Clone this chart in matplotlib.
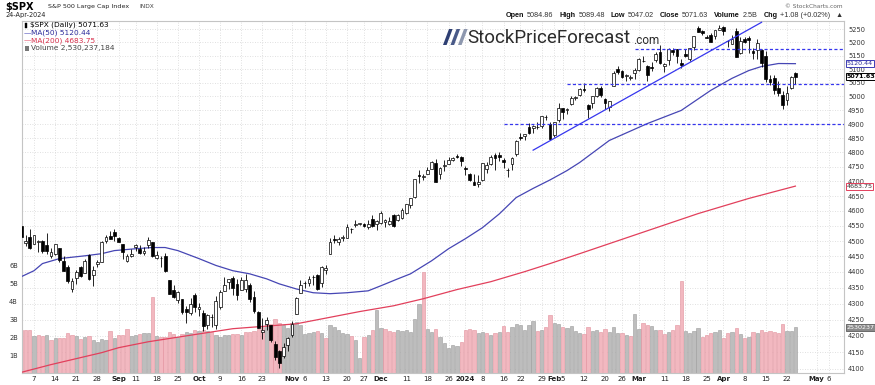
import numpy as np
import pandas as pd
import matplotlib
matplotlib.use("Agg")
import matplotlib.pyplot as plt
import matplotlib.transforms as mtransforms
from matplotlib.patches import Polygon, Rectangle
from matplotlib.ticker import FixedLocator, FuncFormatter, NullLocator

plt.rcParams['font.family'] = ['DejaVu Sans']

# market holidays inside the charted window
holidays = ['2023-09-04', '2023-11-23', '2023-12-25', '2024-01-01',
            '2024-01-15', '2024-02-19', '2024-03-29']

# $SPX daily bars, 1-Aug-2023 .. 24-Apr-2024 (one line per month)
opens = [
    4578.83, 4550.93, 4494.27, 4513.96, 4491.58, 4498.03, 4501.57, 4487.16, 4450.69, 4458.13, 4478.87, 4433.79, 4416.32, 4344.88, 4380.28, 4415.33, 4396.44, 4455.16, 4389.38, 4426.03, 4432.75, 4500.34, 4517.01,
    4530.60, 4510.06, 4490.35, 4434.55, 4451.30, 4480.98, 4473.27, 4462.65, 4487.78, 4497.98, 4445.13, 4445.41, 4452.81, 4374.36, 4341.74, 4310.62, 4312.88, 4282.63, 4269.65, 4328.18,
    4284.52, 4269.75, 4233.83, 4259.31, 4234.79, 4289.02, 4339.75, 4366.59, 4380.94, 4360.49, 4342.37, 4345.23, 4357.35, 4321.36, 4273.85, 4210.40, 4235.79, 4232.42, 4175.99, 4152.93, 4139.39, 4171.33,
    4201.27, 4268.26, 4334.23, 4364.27, 4366.21, 4384.37, 4391.41, 4364.15, 4406.66, 4458.97, 4505.30, 4497.08, 4509.55, 4511.70, 4538.77, 4553.04, 4555.84, 4554.86, 4545.55, 4571.84, 4554.87,
    4559.43, 4564.37, 4557.25, 4586.23, 4568.84, 4576.20, 4593.39, 4618.30, 4646.20, 4721.04, 4714.23, 4725.58, 4743.72, 4764.73, 4724.29, 4753.92, 4758.86, 4773.45, 4786.44, 4782.88,
    4745.20, 4725.07, 4697.42, 4690.57, 4703.70, 4741.93, 4759.94, 4792.13, 4791.18, 4772.35, 4739.13, 4760.10, 4796.28, 4853.42, 4856.80, 4888.56, 4886.66, 4888.91, 4892.95, 4925.89, 4899.19,
    4861.11, 4916.06, 4957.19, 4950.16, 4973.05, 4995.16, 5004.17, 5026.83, 4967.94, 4976.44, 5003.14, 5031.13, 4989.32, 4963.03, 5038.83, 5100.92, 5093.00, 5074.60, 5067.20, 5085.36,
    5098.51, 5130.99, 5110.52, 5108.03, 5132.38, 5164.46, 5111.96, 5134.30, 5173.49, 5175.14, 5123.31, 5154.77, 5139.09, 5181.69, 5253.43, 5242.48, 5219.52, 5228.85, 5226.31, 5248.03,
    5257.97, 5204.29, 5194.37, 5244.05, 5158.95, 5211.37, 5217.03, 5167.88, 5172.95, 5171.51, 5149.67, 5064.59, 5068.97, 5031.52, 5005.44, 4987.33, 5028.85, 5084.86,
]
highs = [
    4584.62, 4550.93, 4519.49, 4540.34, 4519.84, 4503.31, 4502.44, 4527.37, 4476.23, 4490.33, 4478.87, 4449.95, 4421.17, 4381.82, 4407.55, 4418.59, 4443.18, 4458.30, 4418.46, 4439.56, 4500.14, 4521.65, 4532.26,
    4541.25, 4514.29, 4490.35, 4457.81, 4473.53, 4490.77, 4487.11, 4479.39, 4511.99, 4497.98, 4466.36, 4449.85, 4461.03, 4375.70, 4357.40, 4338.51, 4313.01, 4292.07, 4317.27, 4333.15,
    4300.58, 4281.15, 4268.50, 4267.13, 4324.10, 4341.73, 4385.46, 4378.64, 4385.85, 4377.10, 4383.33, 4393.57, 4364.20, 4339.54, 4276.56, 4255.84, 4259.38, 4232.42, 4183.60, 4156.70, 4177.47, 4195.55,
    4245.64, 4319.72, 4373.62, 4372.21, 4386.26, 4391.20, 4393.40, 4418.03, 4421.76, 4508.67, 4521.17, 4511.99, 4520.12, 4557.11, 4542.14, 4568.43, 4560.31, 4560.52, 4568.14, 4587.64, 4569.89,
    4599.39, 4574.06, 4578.56, 4590.74, 4590.92, 4609.23, 4623.18, 4643.93, 4709.69, 4738.57, 4725.53, 4749.52, 4768.69, 4778.01, 4748.71, 4772.94, 4784.72, 4785.39, 4793.30, 4788.43,
    4754.33, 4729.29, 4726.78, 4721.49, 4764.54, 4765.47, 4790.80, 4798.50, 4802.40, 4782.34, 4744.23, 4785.79, 4842.07, 4868.41, 4866.48, 4903.68, 4898.15, 4906.69, 4929.31, 4931.09, 4906.75,
    4906.97, 4975.29, 4957.19, 4957.77, 4999.89, 5000.40, 5030.06, 5048.39, 4971.30, 5002.52, 5032.72, 5038.70, 4993.71, 4983.21, 5094.39, 5111.06, 5097.66, 5080.69, 5077.37, 5104.99,
    5140.33, 5149.67, 5114.54, 5127.97, 5165.62, 5189.26, 5124.66, 5179.87, 5179.14, 5176.85, 5136.86, 5175.60, 5180.31, 5226.19, 5261.10, 5246.09, 5229.09, 5235.16, 5249.26, 5264.85,
    5263.95, 5208.34, 5228.75, 5256.59, 5222.18, 5219.57, 5224.81, 5178.43, 5211.78, 5175.03, 5168.43, 5079.84, 5077.96, 5056.66, 5019.02, 5038.84, 5076.12, 5089.48,
]
lows = [
    4567.53, 4505.75, 4485.54, 4474.55, 4491.15, 4464.39, 4461.33, 4457.92, 4443.98, 4453.44, 4432.19, 4403.55, 4364.83, 4335.31, 4360.30, 4382.77, 4396.44, 4375.55, 4356.29, 4414.98, 4431.68, 4493.59, 4507.39,
    4501.35, 4496.01, 4442.38, 4430.46, 4448.38, 4467.89, 4456.83, 4453.52, 4478.69, 4447.21, 4442.11, 4416.61, 4401.38, 4329.17, 4316.49, 4302.70, 4265.98, 4238.63, 4264.38, 4274.86,
    4260.21, 4216.45, 4220.48, 4225.91, 4219.55, 4283.79, 4339.64, 4345.34, 4325.43, 4311.97, 4342.37, 4337.54, 4303.84, 4269.69, 4223.03, 4189.22, 4219.43, 4181.42, 4127.90, 4103.78, 4132.94, 4153.12,
    4197.74, 4268.26, 4334.23, 4347.53, 4355.41, 4359.76, 4343.94, 4353.34, 4393.82, 4458.97, 4495.31, 4487.83, 4499.66, 4510.36, 4525.51, 4545.05, 4552.80, 4546.32, 4540.51, 4547.15, 4537.24,
    4554.71, 4544.98, 4551.68, 4546.50, 4565.22, 4574.06, 4590.74, 4608.09, 4643.23, 4694.34, 4704.69, 4725.58, 4743.72, 4697.82, 4708.35, 4736.77, 4758.45, 4768.90, 4780.98, 4751.99,
    4722.67, 4699.71, 4687.53, 4682.11, 4699.82, 4730.35, 4756.20, 4739.58, 4768.98, 4747.12, 4714.82, 4740.57, 4785.87, 4844.05, 4844.37, 4865.94, 4869.34, 4881.47, 4887.40, 4916.27, 4845.15,
    4853.52, 4907.99, 4918.09, 4934.88, 4969.05, 4987.09, 5000.34, 5016.83, 4920.31, 4956.21, 4999.44, 4999.52, 4955.02, 4946.00, 5038.83, 5081.46, 5068.91, 5057.29, 5058.35, 5061.89,
    5094.16, 5127.18, 5056.82, 5092.22, 5128.21, 5117.50, 5091.14, 5114.48, 5151.88, 5123.30, 5104.35, 5145.47, 5131.59, 5171.55, 5240.66, 5229.87, 5216.09, 5203.42, 5213.92, 5245.82,
    5229.20, 5184.05, 5194.37, 5146.06, 5157.21, 5197.35, 5160.78, 5138.70, 5138.77, 5107.94, 5052.47, 5039.83, 5007.25, 5001.89, 4953.56, 4969.40, 5027.96, 5047.02,
]
closes = [
    4576.73, 4513.39, 4501.89, 4478.03, 4518.44, 4499.38, 4467.71, 4468.83, 4464.05, 4489.72, 4437.86, 4404.33, 4370.36, 4369.71, 4399.77, 4387.55, 4436.01, 4376.31, 4405.71, 4433.31, 4497.63, 4514.87, 4507.66,
    4515.77, 4496.83, 4465.48, 4451.14, 4457.49, 4487.46, 4461.90, 4467.44, 4505.10, 4450.32, 4453.53, 4443.95, 4402.20, 4330.00, 4320.06, 4337.44, 4273.53, 4274.51, 4299.70, 4288.05,
    4288.39, 4229.45, 4263.75, 4258.19, 4308.50, 4335.66, 4358.24, 4376.95, 4349.61, 4327.78, 4373.63, 4373.20, 4314.60, 4278.00, 4224.16, 4217.04, 4247.68, 4186.77, 4137.23, 4117.37, 4166.82, 4193.80,
    4237.86, 4317.78, 4358.34, 4365.98, 4378.38, 4382.78, 4347.35, 4415.24, 4411.55, 4495.70, 4502.88, 4508.24, 4514.02, 4547.38, 4538.19, 4556.62, 4559.34, 4550.43, 4554.89, 4550.58, 4567.80,
    4594.63, 4569.78, 4567.18, 4549.34, 4585.59, 4604.37, 4622.44, 4643.70, 4707.09, 4719.55, 4719.19, 4740.56, 4768.37, 4698.35, 4746.75, 4754.63, 4774.75, 4781.58, 4783.35, 4769.83,
    4742.83, 4704.81, 4688.68, 4697.24, 4763.54, 4756.50, 4783.45, 4780.24, 4783.83, 4765.98, 4739.21, 4780.94, 4839.81, 4850.43, 4864.60, 4868.55, 4894.16, 4890.97, 4927.93, 4924.97, 4845.65,
    4906.19, 4958.61, 4942.81, 4954.23, 4995.06, 4997.91, 5026.61, 5021.84, 4953.17, 5000.62, 5029.73, 5005.57, 4975.51, 4981.80, 5087.03, 5088.80, 5069.53, 5078.18, 5069.76, 5096.27,
    5137.08, 5130.95, 5078.65, 5104.76, 5157.36, 5123.69, 5117.94, 5175.27, 5165.31, 5150.48, 5117.09, 5149.42, 5178.51, 5224.62, 5241.53, 5234.18, 5218.19, 5203.58, 5248.49, 5254.35,
    5243.77, 5205.81, 5211.49, 5147.21, 5204.34, 5202.39, 5209.91, 5160.64, 5199.06, 5123.41, 5061.82, 5051.41, 5022.21, 5011.12, 4967.23, 5010.60, 5070.55, 5071.63,
]
# volume, billions of shares
volumes = [
    2.30, 2.37, 2.37, 2.40, 2.06, 2.09, 2.06, 2.09, 1.81, 1.94, 1.94, 1.94, 2.22, 2.13, 2.06, 1.91, 2.00, 2.06, 1.85, 1.72, 1.87, 1.81, 2.33,
    1.94, 2.13, 2.13, 2.46, 2.06, 2.09, 2.19, 2.24, 2.24, 4.22, 2.06, 2.00, 2.00, 2.28, 2.19, 2.00, 2.19, 2.28, 2.22, 2.37,
    2.31, 2.37, 2.31, 2.28, 2.09, 2.00, 2.13, 2.09, 2.19, 2.19, 2.09, 2.28, 2.28, 2.33, 2.46, 2.56, 2.74, 2.74, 2.98, 2.80, 2.69, 2.52,
    2.76, 2.83, 2.69, 2.19, 2.24, 2.28, 2.31, 2.22, 1.94, 2.65, 2.56, 2.41, 2.24, 2.15, 2.06, 1.81, 0.85, 2.00, 2.09, 2.37, 3.52,
    2.50, 2.46, 2.33, 2.28, 2.41, 2.31, 2.37, 2.28, 2.98, 3.85, 5.61, 2.43, 2.28, 2.46, 2.00, 1.69, 1.41, 1.57, 1.48, 1.72,
    2.37, 2.43, 2.37, 2.22, 2.28, 2.22, 2.13, 2.24, 2.28, 2.59, 2.28, 2.56, 2.74, 2.65, 2.41, 2.65, 2.89, 2.33, 2.37, 2.56, 3.24,
    2.80, 2.74, 2.56, 2.50, 2.59, 2.33, 2.24, 2.19, 2.54, 2.31, 2.37, 2.28, 2.43, 2.28, 2.54, 2.24, 2.24, 2.13, 2.04, 3.30,
    2.43, 2.78, 2.69, 2.59, 2.37, 2.37, 2.17, 2.28, 2.37, 2.65, 5.09, 2.33, 2.22, 2.33, 2.50, 2.00, 2.09, 2.24, 2.28, 2.37,
    1.96, 2.24, 2.28, 2.50, 2.17, 1.96, 2.00, 2.28, 2.22, 2.37, 2.28, 2.31, 2.28, 2.22, 2.72, 2.33, 2.33, 2.53,
]
prev_close = 4588.96  # 31-Jul-2023
last_volume = 2530237184

# moving averages
ma50_dates = ['2023-08-02', '2023-08-07', '2023-08-09', '2023-08-15', '2023-08-23', '2023-08-29', '2023-09-01',
              '2023-09-11', '2023-09-15', '2023-09-20', '2023-09-25', '2023-10-02', '2023-10-06', '2023-10-12',
              '2023-10-18', '2023-10-24', '2023-10-27', '2023-11-02', '2023-11-08', '2023-11-14', '2023-11-20',
              '2023-11-28', '2023-12-01', '2023-12-07', '2023-12-12', '2023-12-19', '2023-12-26', '2024-01-02',
              '2024-01-08', '2024-01-12', '2024-01-19', '2024-01-25', '2024-01-31', '2024-02-06', '2024-02-09',
              '2024-02-21', '2024-03-05', '2024-03-15', '2024-03-26', '2024-04-03', '2024-04-09', '2024-04-12',
              '2024-04-18', '2024-04-24']
ma50_vals = [4385, 4404, 4427, 4443, 4452, 4459, 4469, 4475, 4479, 4479, 4469, 4443, 4421, 4404, 4394,
             4378, 4362, 4346, 4334, 4331, 4334, 4340, 4356, 4378, 4394, 4436, 4475, 4508, 4544, 4590,
             4645, 4676, 4705, 4737, 4765, 4842, 4902, 4949, 5022, 5066, 5095, 5110, 5121, 5120.44]
ma200_dates = ['2023-08-02', '2023-08-11', '2023-08-21', '2023-08-29', '2023-09-05', '2023-09-14', '2023-09-27',
               '2023-10-12', '2023-11-02', '2023-11-24', '2023-12-06', '2023-12-15', '2023-12-28', '2024-01-10',
               '2024-01-23', '2024-01-31', '2024-02-09', '2024-03-05', '2024-03-21', '2024-04-09', '2024-04-24']
ma200_vals = [4090, 4113, 4131, 4149, 4164, 4182, 4200, 4222, 4237, 4275, 4293, 4315, 4344, 4369,
              4401, 4427, 4459, 4534, 4591, 4642, 4683.75]

# annotations drawn on the chart
support_levels = [5175, 5047, 4900]
support_start = ['2024-02-29', '2024-02-06', '2024-01-16']
trend_dates = ['2024-01-25', '2024-04-12']
trend_vals = [4808, 5277]

price_levels = list(range(4100, 5251, 50))
vol_levels = [1, 2, 3, 4, 5, 6]

tick_dates = ['2023-08-07', '2023-08-14', '2023-08-21', '2023-08-28', '2023-09-05', '2023-09-11', '2023-09-18',
              '2023-09-25', '2023-10-02', '2023-10-09', '2023-10-16', '2023-10-23', '2023-11-01', '2023-11-06',
              '2023-11-13', '2023-11-20', '2023-11-27', '2023-12-01', '2023-12-11', '2023-12-18', '2023-12-26',
              '2024-01-02', '2024-01-08', '2024-01-16', '2024-01-22', '2024-01-29', '2024-02-01', '2024-02-05',
              '2024-02-12', '2024-02-20', '2024-02-26', '2024-03-01', '2024-03-11', '2024-03-18', '2024-03-25',
              '2024-04-01', '2024-04-08', '2024-04-15', '2024-04-22', '2024-05-01', '2024-05-06']
tick_labels = ['7', '14', '21', '28', 'Sep', '11', '18', '25', 'Oct', '9', '16', '23', 'Nov', '6', '13', '20', '27',
               'Dec', '11', '18', '26', '2024', '8', '16', '22', '29', 'Feb', '5', '12', '20', '26', 'Mar', '11',
               '18', '25', 'Apr', '8', '15', '22', 'May', '6']

# ---------------------------------------------------------------------------
cal = pd.bdate_range('2023-08-01', '2024-05-10', freq='C', holidays=holidays)
day = {d.strftime('%Y-%m-%d'): i for i, d in enumerate(cal)}

o, hi, lo, c, v = (np.array(a, dtype=float) for a in (opens, highs, lows, closes, volumes))
x = np.arange(len(c))
down = c < np.concatenate([[prev_close], c[:-1]])

W, H = 875, 385
fig = plt.figure(figsize=(W / 100, H / 100), dpi=100)
fig.patch.set_facecolor('white')


def fpx(px, py):
    return px / W, 1 - py / H


L, R, T, B = 22, 844, 21, 373
rect = [L / W, 1 - B / H, (R - L) / W, (B - T) / H]
axv = fig.add_axes(rect)
ax = fig.add_axes(rect, sharex=axv)
ax.patch.set_visible(False)

px_day = 4.23
x_left = day['2023-08-07'] - (34 - L) / px_day
x_right = day['2023-08-07'] + (R - 34) / px_day
axv.set_xlim(x_left, x_right)
axv.set_ylim(0, (B - T) / 18.0)
ax.set_yscale('log')
ax.set_ylim(4088, 5282)

# grid
blend = mtransforms.blended_transform_factory(axv.transAxes, ax.transData)
for lv in price_levels:
    axv.plot([0, 1], [lv, lv], transform=blend, color='#d6d6d6', lw=0.6, ls=(0, (1, 2)), zorder=0.5)
tick_x = [day[d] for d in tick_dates]
axv.vlines(tick_x, 0, 1, transform=axv.get_xaxis_transform(), color='#d6d6d6', lw=0.6,
           linestyles=(0, (1, 2)), zorder=0.5)

# volume
axv.bar(x, v, width=0.78, color=np.where(down, '#f2b8c0', '#bdbdbd'),
        edgecolor=np.where(down, '#e2909c', '#9c9c9c'), lw=0.4, zorder=1)

# moving averages
ax.plot([day[d] for d in ma200_dates], ma200_vals, color='#e2405c', lw=0.9, zorder=2)
ax.plot([day[d] for d in ma50_dates], ma50_vals, color='#4646b4', lw=0.9, zorder=2)

# candles
ax.vlines(x, lo, hi, color='black', lw=0.6, zorder=3)
ax.bar(x, np.maximum(np.abs(c - o), 0.5), bottom=np.minimum(o, c), width=0.66,
       color=np.where(c >= o, 'white', 'black'), edgecolor='black', lw=0.5, zorder=4)

# trend / support lines
blue = '#3636ee'
for lv, d in zip(support_levels, support_start):
    ax.plot([day[d], x_right], [lv, lv], color=blue, lw=0.9, ls=(0, (2.5, 1.8)), zorder=5)
ax.plot([day[d] for d in trend_dates], trend_vals, color=blue, lw=0.9, zorder=5)

# axes styling
ax.yaxis.tick_right()
ax.yaxis.set_major_locator(FixedLocator(price_levels))
ax.yaxis.set_major_formatter(FuncFormatter(lambda val, pos: f'{val:.0f}'))
ax.yaxis.set_minor_locator(NullLocator())
ax.tick_params(axis='y', which='both', length=0, labelsize=4.8, pad=3, labelcolor='#333333')
ax.tick_params(axis='x', labelbottom=False, length=0)
for s in ax.spines.values():
    s.set_visible(False)

axv.set_yticks(vol_levels)
axv.set_yticklabels([f'{b}B' for b in vol_levels])
axv.tick_params(axis='y', length=0, labelsize=4.8, pad=3, labelcolor='#333333')
axv.set_xticks(tick_x)
axv.set_xticklabels(tick_labels)
axv.tick_params(axis='x', length=0, labelsize=5, pad=2, labelcolor='#222222')
for t in axv.get_xticklabels():
    if not t.get_text().isdigit() or t.get_text() == '2024':
        t.set_fontweight('bold')
for s in axv.spines.values():
    s.set_color('#c4c4c4')
    s.set_linewidth(0.8)

# value tags on the right edge
tr_p = mtransforms.blended_transform_factory(ax.transAxes, ax.transData)
tr_v = mtransforms.blended_transform_factory(ax.transAxes, axv.transData)


def tag(y, text, tr, fc, ec, tc, bold=False):
    ax.text(1.003, y, text, transform=tr, ha='left', va='center', fontsize=4.6, color=tc,
            fontweight='bold' if bold else 'normal', zorder=10, clip_on=False,
            bbox=dict(boxstyle='square,pad=0.15', fc=fc, ec=ec, lw=0.7))


tag(ma50_vals[-1], f'{ma50_vals[-1]:.2f}', tr_p, 'white', '#3c3cb4', '#2a2a9a')
tag(c[-1], f'{c[-1]:.2f}', tr_p, 'white', 'black', 'black', bold=True)
tag(ma200_vals[-1], f'{ma200_vals[-1]:.2f}', tr_p, 'white', '#e2405c', '#333333')
tag(v[-1], str(last_volume)[:7], tr_v, '#8a8a8a', '#6a6a6a', 'white')

# legend block (top-left, inside the plot)
fig.patches.append(Rectangle(fpx(25, 27.5), 2 / W, 5 / H, transform=fig.transFigure, fc='black', ec='black', lw=0.3))
fig.text(*fpx(30, 25), f'$SPX (Daily) {c[-1]:.2f}', fontsize=5.3, color='black', va='center')
fig.text(*fpx(24, 33), '\u2014', fontsize=5.3, color='#3c3cb4', va='center')
fig.text(*fpx(31, 33), f'MA(50) {ma50_vals[-1]:.2f}', fontsize=5.3, color='#2a2a9a', va='center')
fig.text(*fpx(24, 40.5), '\u2014', fontsize=5.3, color='#e2405c', va='center')
fig.text(*fpx(31, 40.5), f'MA(200) {ma200_vals[-1]:.2f}', fontsize=5.3, color='#d8304c', va='center')
fig.patches.append(Rectangle(fpx(25, 50.5), 4 / W, 5 / H, transform=fig.transFigure, fc='#777777', lw=0))
fig.text(*fpx(31, 48), f'Volume {last_volume:,}', fontsize=5.3, color='#444444', va='center')

# title block
fig.text(*fpx(5, 6.5), '$SPX', fontsize=7, fontweight='bold', color='black', va='center')
fig.text(*fpx(48, 6.5), 'S&P 500 Large Cap Index', fontsize=4.6, color='#222222', va='center')
fig.text(*fpx(139, 6.5), 'INDX', fontsize=4.2, color='#444444', va='center')
fig.text(*fpx(5, 15.5), '24-Apr-2024', fontsize=4.7, color='#222222', va='center')

fig.text(*fpx(843, 6), '\u00a9 StockCharts.com', fontsize=4.2, color='#666666', va='center', ha='right')

# quote line, laid out piece by piece and right-aligned at the plot edge
chg = c[-1] - c[-2]
quote = [('Open', True), (f'{o[-1]:.2f}', False), ('High', True), (f'{hi[-1]:.2f}', False),
         ('Low', True), (f'{lo[-1]:.2f}', False), ('Close', True), (f'{c[-1]:.2f}', False),
         ('Volume', True), (f'{v[-1]:.1f}B', False), ('Chg', True),
         (f'{chg:+.2f} ({chg / c[-2] * 100:+.2f}%)', False), ('\u25b2', False)]
renderer = fig.canvas.get_renderer()
q_texts = []
for s, bold in quote:
    q_texts.append(fig.text(0, fpx(0, 15.5)[1], s, fontsize=5.2, family=['Liberation Sans', 'DejaVu Sans'],
                            fontweight='bold' if bold else 'normal',
                            color='#111111' if bold else '#333333', va='center'))
widths = [t.get_window_extent(renderer).width for t in q_texts]
gaps = [2.5 if q[1] else 6.0 for q in quote]
cur = 843 - (sum(widths) + sum(gaps[:-1]))
for t, w_, g in zip(q_texts, widths, gaps):
    t.set_x(cur / W)
    cur += w_ + g

# StockPriceForecast.com logo
for k, col in enumerate(['#2e3f73', '#4a5a88', '#8d97ae']):
    x0 = 443 + k * 7.5
    pts = [fpx(x0, 45), fpx(x0 + 3.6, 45), fpx(x0 + 9.6, 29), fpx(x0 + 6, 29)]
    fig.patches.append(Polygon(pts, closed=True, transform=fig.transFigure, fc=col, ec='none'))
fig.text(*fpx(467, 38), 'StockPriceForecast', fontsize=13.5, family=['Roboto', 'DejaVu Sans'],
         color='#2b2b2b', va='center')
fig.text(*fpx(633, 40.5), '.com', fontsize=8.5, family=['Roboto', 'DejaVu Sans'], color='#2b2b2b', va='center')

fig.savefig('out.png', dpi=100, facecolor='white')
